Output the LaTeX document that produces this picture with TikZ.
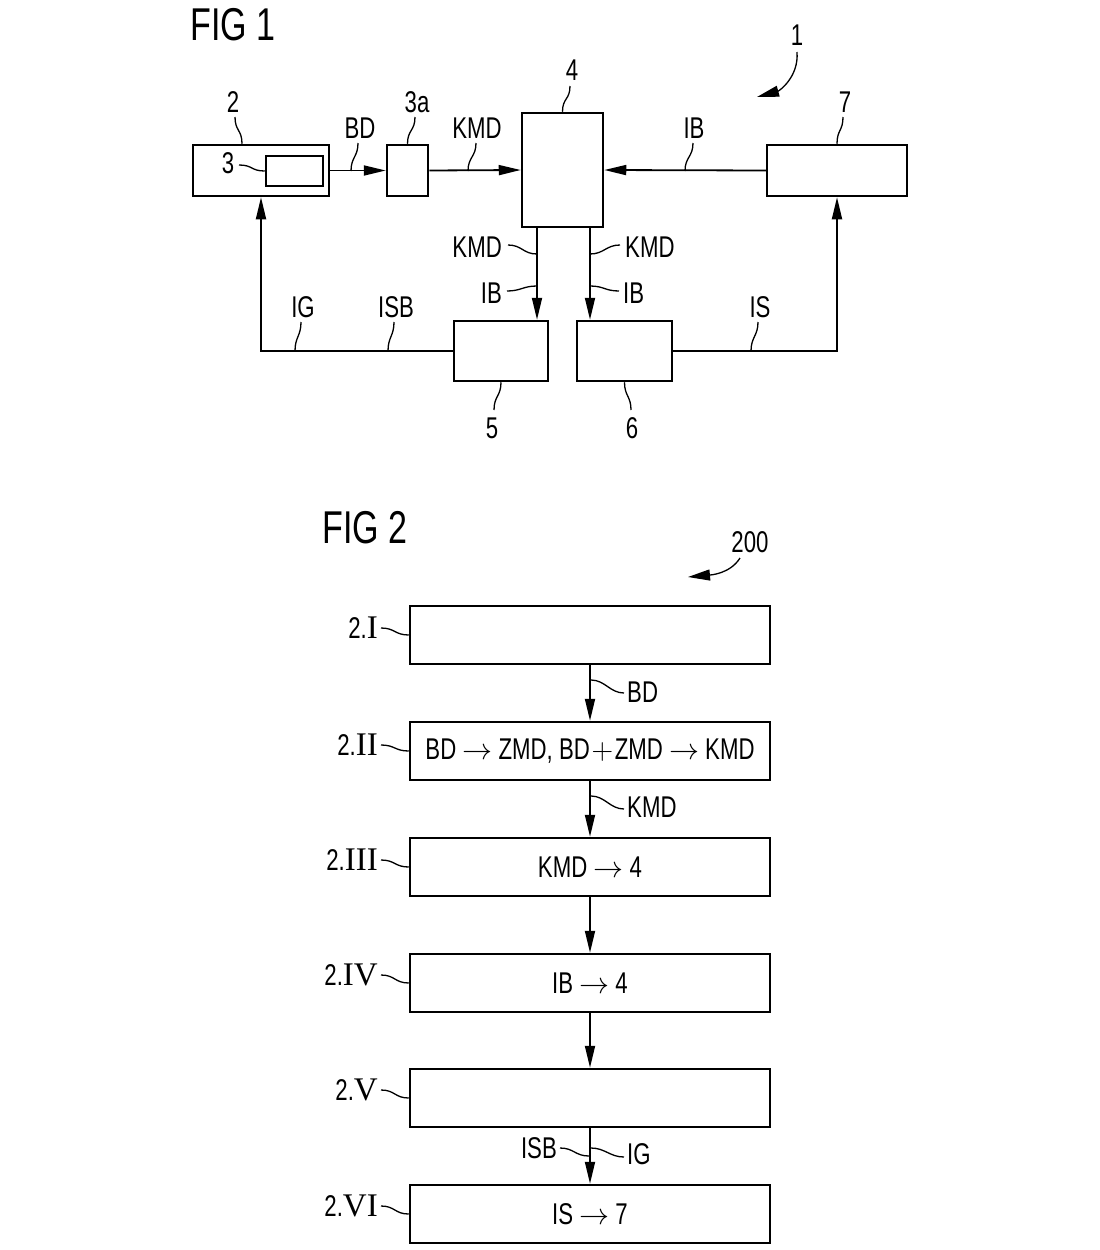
\documentclass[tikz,border=0pt]{standalone}
\usepackage{fix-cm}
\usepackage{fontspec}
\setmainfont{Liberation Sans}[FakeStretch=0.74]
\newfontfamily\romfont{Liberation Serif}
\usetikzlibrary{arrows.meta}
\usetikzlibrary{calc}

\tikzset{
	box/.style={draw, line width=2.5pt, inner sep=0pt},
	link/.style={line width=1.8pt},
	arr/.style={link, -{Triangle[length=22pt,width=10pt]}},
	lead/.style={line width=1.3pt},
	txt/.style={font=\fontsize{30}{34}\selectfont, inner sep=0pt},
	figtxt/.style={font=\fontsize{46}{50}\selectfont, inner sep=0pt},
	stepbox/.style={box, minimum width=360pt, minimum height=58pt, font=\fontsize{30}{34}\selectfont},
}
\newcommand{\leadv}[2]{\draw[lead] #1 .. controls +(0,14) and +(0,-14) .. #2;}
\newcommand{\leadh}[2]{\draw[lead] #1 .. controls +(14,0) and +(-14,0) .. #2;}
\newcommand{\stepno}[1]{2.{\romfont\fontsize{33}{36}\selectfont #1}}

\begin{document}
\begin{tikzpicture}[x=1pt,y=-1pt]
		\useasboundingbox (0,0) rectangle (1100,1250);

		% FIG 1
		\node[figtxt] (fig1) at (233,25) {FIG 1};
		\node[box, minimum width=136pt, minimum height=51pt] (b2) at (261,170.5) {};
		\node[box, minimum width=57pt, minimum height=30pt] (b3) at (294.5,171) {};
		\node[box, minimum width=41pt, minimum height=51pt] (b3a) at (407.5,170.5) {};
		\node[box, minimum width=81pt, minimum height=114pt] (b4) at (562.5,170) {};
		\node[box, minimum width=140pt, minimum height=51pt] (b7) at (837,170.5) {};
		\node[box, minimum width=94pt, minimum height=60pt] (b5) at (501,351) {};
		\node[box, minimum width=95pt, minimum height=60pt] (b6) at (624.5,351) {};

		\draw[arr] (b2.east) -- (b3a.west);
		\draw[arr] (b3a.east) -- (b4.west);
		\draw[arr] (b7.west) -- (b4.east);
		\draw[arr] ([xshift=-25.5pt]b4.south) -- ([xshift=-25.5pt]b4.south |- b5.north);
		\draw[arr] ([xshift=27.5pt]b4.south) -- ([xshift=27.5pt]b4.south |- b6.north);
		\draw[arr] (b5.west) -| (b2.south);
		\draw[arr] (b6.east) -| (b7.south);

		% reference signs
		\node[txt] (n1) at (797,35) {1};
		\draw[lead, -{Triangle[length=22pt,width=11pt]}] (797,52) .. controls +(2,25) and +(22,-6) .. (757,97);
		\node[txt] (n2) at (233,102) {2};
		\leadv{(235,117)}{([xshift=-19pt]b2.north)}
		\node[txt] (n3) at (228,163) {3};
		\leadh{(239,165)}{(b3.west)}
		\node[txt] (n3a) at (417,102) {3a};
		\leadv{(415,117)}{(b3a.north)}
		\node[txt] (n4) at (572,70) {4};
		\leadv{(570,86)}{(b4.north)}
		\node[txt] (n7) at (845,102) {7};
		\leadv{(843,117)}{(b7.north)}
		\node[txt] (n5) at (492,428) {5};
		\leadv{(b5.south)}{(494,410)}
		\node[txt] (n6) at (632,428) {6};
		\leadv{(b6.south)}{(631,410)}

		% signal labels
		\node[txt] (bd) at (360,128) {BD};
		\leadv{(358,143)}{(351,171)}
		\node[txt] (kmd1) at (477,128) {KMD};
		\leadv{(476,143)}{(468,171)}
		\node[txt] (ib1) at (694,128) {IB};
		\leadv{(693,143)}{(685,171)}
		\node[txt, anchor=east] (kmd2) at (502,247) {KMD};
		\leadh{(508,245)}{(537,254)}
		\node[txt, anchor=east] (ib2) at (502,293) {IB};
		\leadh{(507,291)}{(537,286)}
		\node[txt, anchor=west] (kmd3) at (625,247) {KMD};
		\leadh{(590,254)}{(620,245)}
		\node[txt, anchor=west] (ib3) at (623,293) {IB};
		\leadh{(590,286)}{(619,291)}
		\node[txt] (ig1) at (303,307) {IG};
		\leadv{(301,322)}{(295,351)}
		\node[txt] (isb1) at (396,307) {ISB};
		\leadv{(394,322)}{(388,351)}
		\node[txt] (is1) at (760,307) {IS};
		\leadv{(758,322)}{(751,351)}

		% FIG 2
		\node[figtxt] (fig2) at (365,528) {FIG 2};
		\node[txt] (n200) at (750,542) {200};
		\draw[lead, -{Triangle[length=22pt,width=11pt]}] (740,558) .. controls +(-10,16) and +(22,-2) .. (688,577);

		\node[stepbox] (s1) at (590,635) {};
		\node[stepbox] (s2) at (590,751) {BD $\rightarrow$ ZMD, BD$\mkern1mu{+}\mkern1mu$ZMD $\rightarrow$ KMD};
		\node[stepbox] (s3) at (590,867) {KMD $\rightarrow$ 4};
		\node[stepbox] (s4) at (590,983) {IB $\rightarrow$ 4};
		\node[stepbox] (s5) at (590,1098) {};
		\node[stepbox] (s6) at (590,1214) {IS $\rightarrow$ 7};

		\draw[arr] (s1.south) -- (s2.north);
		\draw[arr] (s2.south) -- (s3.north);
		\draw[arr] (s3.south) -- (s4.north);
		\draw[arr] (s4.south) -- (s5.north);
		\draw[arr] (s5.south) -- (s6.north);

		\node[txt, anchor=east] (t1) at (378,628) {\stepno{I}};
		\leadh{(381,628)}{(s1.west)}
		\node[txt, anchor=east] (t2) at (378,745) {\stepno{II}};
		\leadh{(381,745)}{(s2.west)}
		\node[txt, anchor=east] (t3) at (378,860) {\stepno{III}};
		\leadh{(381,860)}{(s3.west)}
		\node[txt, anchor=east] (t4) at (378,975) {\stepno{IV}};
		\leadh{(381,975)}{(s4.west)}
		\node[txt, anchor=east] (t5) at (378,1090) {\stepno{V}};
		\leadh{(381,1090)}{(s5.west)}
		\node[txt, anchor=east] (t6) at (378,1206) {\stepno{VI}};
		\leadh{(381,1206)}{(s6.west)}

		\node[txt, anchor=west] (bd2) at (627,692) {BD};
		\leadh{(591,680)}{(624,693)}
		\node[txt, anchor=west] (kmd4) at (627,807) {KMD};
		\leadh{(591,796)}{(624,809)}
		\node[txt, anchor=east] (isb2) at (557,1148) {ISB};
		\leadh{(560,1148)}{(589,1156)}
		\node[txt, anchor=west] (ig2) at (627,1154) {IG};
		\leadh{(591,1148)}{(624,1157)}
	\end{tikzpicture}
\end{document}
